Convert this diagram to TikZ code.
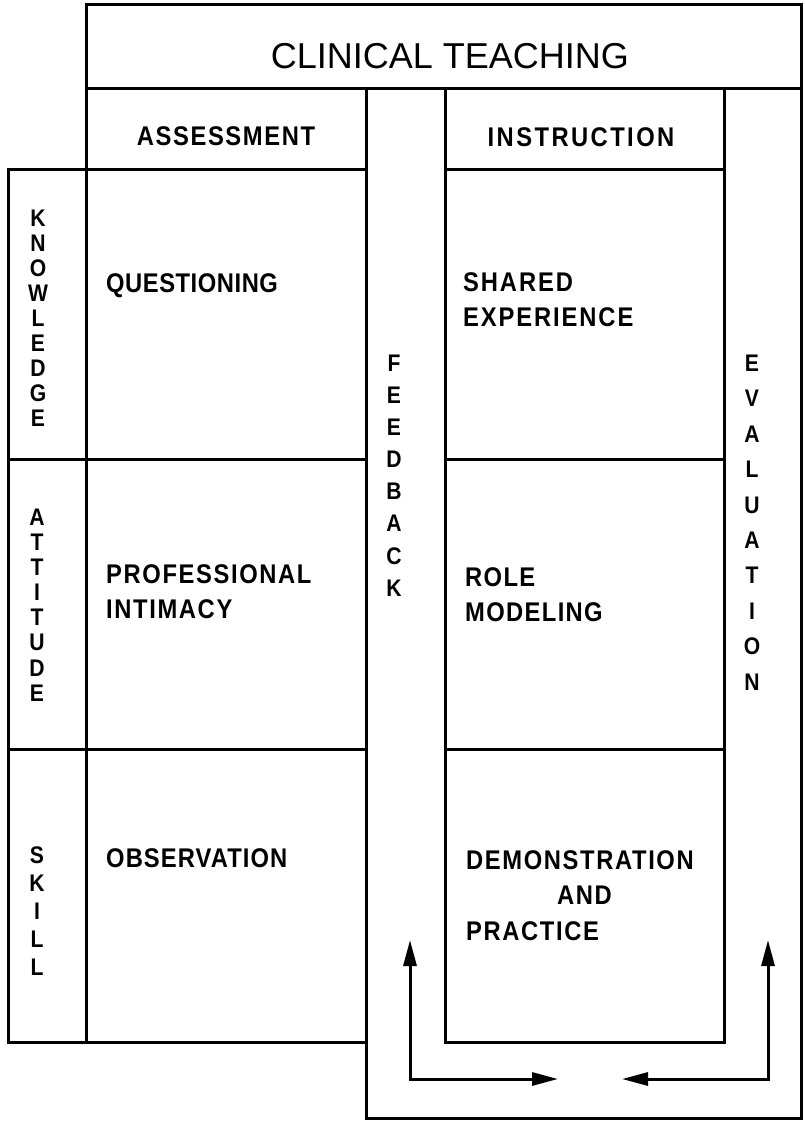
\documentclass[tikz,border=0pt]{standalone}
\usepackage{fontspec}
\newfontfamily\labfont[FakeStretch=0.88]{Liberation Sans}
\newfontfamily\ttlfont{Liberation Sans}
\newcommand\lsp[1]{\addfontfeature{LetterSpace=#1}}
\usetikzlibrary{arrows.meta}
\begin{document}
\begin{tikzpicture}[x=1pt,y=-1pt,
  ln/.style={line width=3pt, line join=miter, line cap=rect},
  ttl/.style={inner sep=0pt, font=\ttlfont\fontsize{36}{40}\selectfont},
  lab/.style={inner sep=0pt, font=\labfont\bfseries\fontsize{27}{35.5}\selectfont\lsp{#1}, align=left, anchor=north west},
  hdr/.style={inner sep=0pt, font=\labfont\bfseries\fontsize{27}{32}\selectfont\lsp{#1}},
  vert/.style={inner sep=0pt, align=center, font=\labfont\bfseries\fontsize{24}{#1}\selectfont},
  arr/.style={line width=3pt, {Triangle[length=26pt,width=13pt]}-{Triangle[length=26pt,width=13pt]}}
]
\useasboundingbox (0,0) rectangle (804,1121);
% frame lines
\draw[ln] (86,5) rectangle (801,89);
\draw[ln] (86,89) rectangle (366,169);
\draw[ln] (445,89) rectangle (724,169);
\draw[ln] (8,169) rectangle (366,1042);
\draw[ln] (86,169) -- (86,1042);
\draw[ln] (8,459) -- (366,459);
\draw[ln] (8,749) -- (366,749);
\draw[ln] (366,1042) -- (366,1118) -- (801,1118) -- (801,89);
\draw[ln] (445,169) rectangle (724,1042);
\draw[ln] (445,459) -- (724,459);
\draw[ln] (445,749) -- (724,749);
% texts
\node[ttl] (title) at (450,56) {CLINICAL TEACHING};
\node[hdr=6] (assess) at (226,136) {ASSESSMENT};
\node[hdr=9] (instr) at (581,137) {INSTRUCTION};
\node[lab=2] (quest) at (106,273) {QUESTIONING};
\node[lab=6] (prof) at (106,564) {PROFESSIONAL\\INTIMACY};
\node[lab=4] (obs) at (106,848) {OBSERVATION};
\node[lab=7] (shared) at (463,272) {SHARED\\EXPERIENCE};
\node[lab=5] (role) at (465,567) {ROLE\\MODELING};
\node[lab=6] (demo) at (466,850) {DEMONSTRATION\\\hspace*{91pt}AND\\PRACTICE};
\node[vert=25] (know) at (38,318) {K\\N\\O\\W\\L\\E\\D\\G\\E};
\node[vert=25.1] (att) at (37,605) {A\\T\\T\\I\\T\\U\\D\\E};
\node[vert=28] (skill) at (37,911) {S\\K\\I\\L\\L};
\node[vert=32.1] (feed) at (394,475.5) {F\\E\\E\\D\\B\\A\\C\\K};
\node[vert=35.4] (eval) at (752,522.5) {E\\V\\A\\L\\U\\A\\T\\I\\O\\N};
% arrows
\coordinate (la1) at (410,940);
\coordinate (la2) at (558,1079);
\draw[arr] (la1) |- (la2);
\coordinate (ra1) at (768,940);
\coordinate (ra2) at (622,1079);
\draw[arr] (ra1) |- (ra2);
\end{tikzpicture}
\end{document}
